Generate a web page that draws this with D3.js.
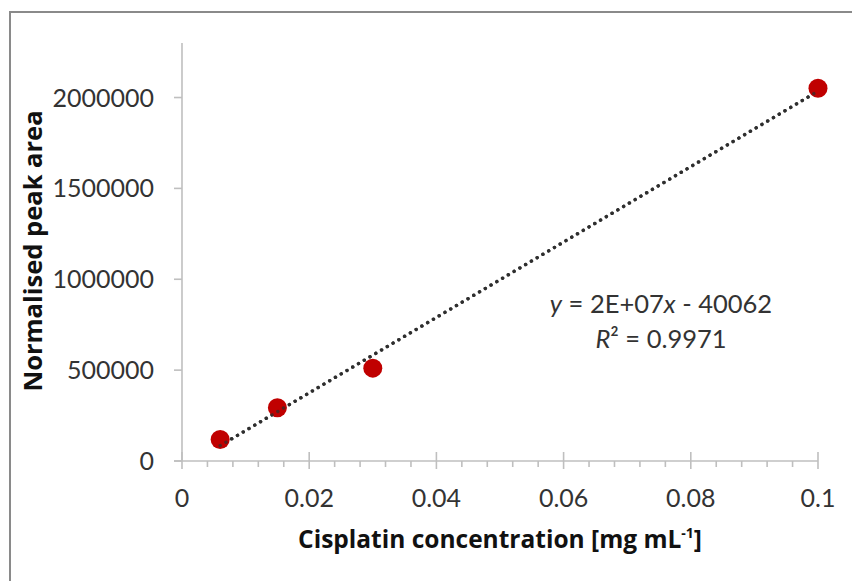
<!DOCTYPE html>
<html>
<head>
<meta charset="utf-8">
<script src="https://cdn.jsdelivr.net/npm/d3@7"></script>
<style>
  html, body { margin: 0; padding: 0; background: #fff; }
  svg { display: block; }
</style>
</head>
<body>
<svg id="chart" width="852" height="581"></svg>
<script>
// Calibration standards: cisplatin concentration vs normalised peak area
const concentrations = [0.006, 0.015, 0.03, 0.1];
const peakAreas = [118000, 293000, 511000, 2051000];
const xTicks = [0, 0.02, 0.04, 0.06, 0.08, 0.1];
const xTickLabels = ["0", "0.02", "0.04", "0.06", "0.08", "0.1"];
const yTicks = [0, 500000, 1000000, 1500000, 2000000];
const yTickLabels = ["0", "500000", "1000000", "1500000", "2000000"];
const equationText = "y = 2E+07x - 40062";
const rSquaredText = "R² = 0.9971";

const svg = d3.select("#chart");
const font = "Lato, 'Open Sans', sans-serif";
const titleFont = "'Open Sans', Lato, sans-serif";
const axisColor = "#bfbfbf";

// Outer frame (top and left edges visible)
svg.append("path")
  .attr("d", "M10,600 V12 H860")
  .attr("fill", "none")
  .attr("stroke", "#8a8a8a")
  .attr("stroke-width", 2);

const x = d3.scaleLinear().domain([0, 0.1]).range([182, 818]);
const y = d3.scaleLinear().domain([0, 2300000]).range([461, 43]);

// Y axis line and outside ticks
svg.append("line")
  .attr("x1", x(0)).attr("x2", x(0))
  .attr("y1", y(2300000)).attr("y2", y(0))
  .attr("stroke", axisColor).attr("stroke-width", 1.6);
svg.selectAll(".ytick").data(yTicks).join("line")
  .attr("class", "ytick")
  .attr("x1", x(0) - 8).attr("x2", x(0))
  .attr("y1", d => y(d)).attr("y2", d => y(d))
  .attr("stroke", axisColor).attr("stroke-width", 1.6);
svg.selectAll(".ylab").data(yTicks).join("text")
  .attr("class", "ylab")
  .attr("x", 154)
  .attr("y", d => y(d))
  .attr("dy", "0.36em")
  .attr("text-anchor", "end")
  .attr("font-family", font)
  .attr("font-size", 25)
  .attr("fill", "#333")
  .text((d, i) => yTickLabels[i]);

// X axis line, crossing major ticks and outside minor ticks
svg.append("line")
  .attr("x1", x(0) - 8).attr("x2", x(0.1))
  .attr("y1", y(0)).attr("y2", y(0))
  .attr("stroke", axisColor).attr("stroke-width", 1.6);
const minorTicks = d3.range(0, 26).map(i => i * 0.004)
  .filter(v => Math.abs(v / 0.02 - Math.round(v / 0.02)) > 1e-6);
svg.selectAll(".xminor").data(minorTicks).join("line")
  .attr("class", "xminor")
  .attr("x1", d => x(d)).attr("x2", d => x(d))
  .attr("y1", y(0)).attr("y2", y(0) + 6)
  .attr("stroke", axisColor).attr("stroke-width", 1.6);
svg.selectAll(".xmajor").data(xTicks).join("line")
  .attr("class", "xmajor")
  .attr("x1", d => x(d)).attr("x2", d => x(d))
  .attr("y1", y(0) - 9).attr("y2", y(0) + 8)
  .attr("stroke", axisColor).attr("stroke-width", 1.6);
svg.selectAll(".xlab").data(xTicks).join("text")
  .attr("class", "xlab")
  .attr("x", d => x(d))
  .attr("y", 507)
  .attr("text-anchor", "middle")
  .attr("font-family", font)
  .attr("font-size", 25)
  .attr("fill", "#333")
  .text((d, i) => xTickLabels[i]);

// Least-squares linear trendline through the standards
const n = concentrations.length;
const mx = d3.mean(concentrations), my = d3.mean(peakAreas);
let sxy = 0, sxx = 0;
for (let i = 0; i < n; i++) {
  sxy += (concentrations[i] - mx) * (peakAreas[i] - my);
  sxx += (concentrations[i] - mx) ** 2;
}
const slope = sxy / sxx;
const intercept = my - slope * mx;
const xMin = d3.min(concentrations), xMax = d3.max(concentrations);

function trendline(opacity) {
  svg.append("line")
    .attr("x1", x(xMin)).attr("y1", y(slope * xMin + intercept))
    .attr("x2", x(xMax)).attr("y2", y(slope * xMax + intercept))
    .attr("stroke", "#2e2e2e")
    .attr("stroke-width", 3.4)
    .attr("stroke-linecap", "round")
    .attr("stroke-dasharray", "0.1 6.6")
    .attr("opacity", opacity);
}
trendline(1);

// Data markers
svg.selectAll(".pt").data(concentrations).join("circle")
  .attr("class", "pt")
  .attr("cx", d => x(d))
  .attr("cy", (d, i) => y(peakAreas[i]))
  .attr("r", 9.5)
  .attr("fill", "#c00000");

// Trendline dots stay visible on top of the markers
trendline(0.7);

// Trendline equation and R²
const eq = svg.append("text")
  .attr("x", 661).attr("y", 313)
  .attr("text-anchor", "middle")
  .attr("font-family", font)
  .attr("font-size", 25.5)
  .attr("fill", "#333");
eq.append("tspan").attr("font-style", "italic").text("y");
eq.append("tspan").text(" = 2E+07");
eq.append("tspan").attr("font-style", "italic").text("x");
eq.append("tspan").text(" - 40062");

const r2 = svg.append("text")
  .attr("x", 661).attr("y", 348)
  .attr("text-anchor", "middle")
  .attr("font-family", font)
  .attr("font-size", 25.5)
  .attr("fill", "#333");
r2.append("tspan").attr("font-style", "italic").text("R");
r2.append("tspan").text(rSquaredText.slice(1));

// Axis titles
const xt = svg.append("text")
  .attr("x", 500).attr("y", 548)
  .attr("text-anchor", "middle")
  .attr("font-family", titleFont)
  .attr("font-weight", "bold")
  .attr("font-size", 24.5)
  .attr("fill", "#111");
xt.append("tspan").text("Cisplatin concentration [mg mL");
xt.append("tspan").attr("font-size", 14).attr("dy", -10).text("-1");
xt.append("tspan").attr("dy", 10).text("]");

svg.append("text")
  .attr("transform", "translate(42,251) rotate(-90)")
  .attr("text-anchor", "middle")
  .attr("font-family", titleFont)
  .attr("font-weight", "bold")
  .attr("font-size", 25.5)
  .attr("fill", "#111")
  .text("Normalised peak area");
</script>
</body>
</html>
